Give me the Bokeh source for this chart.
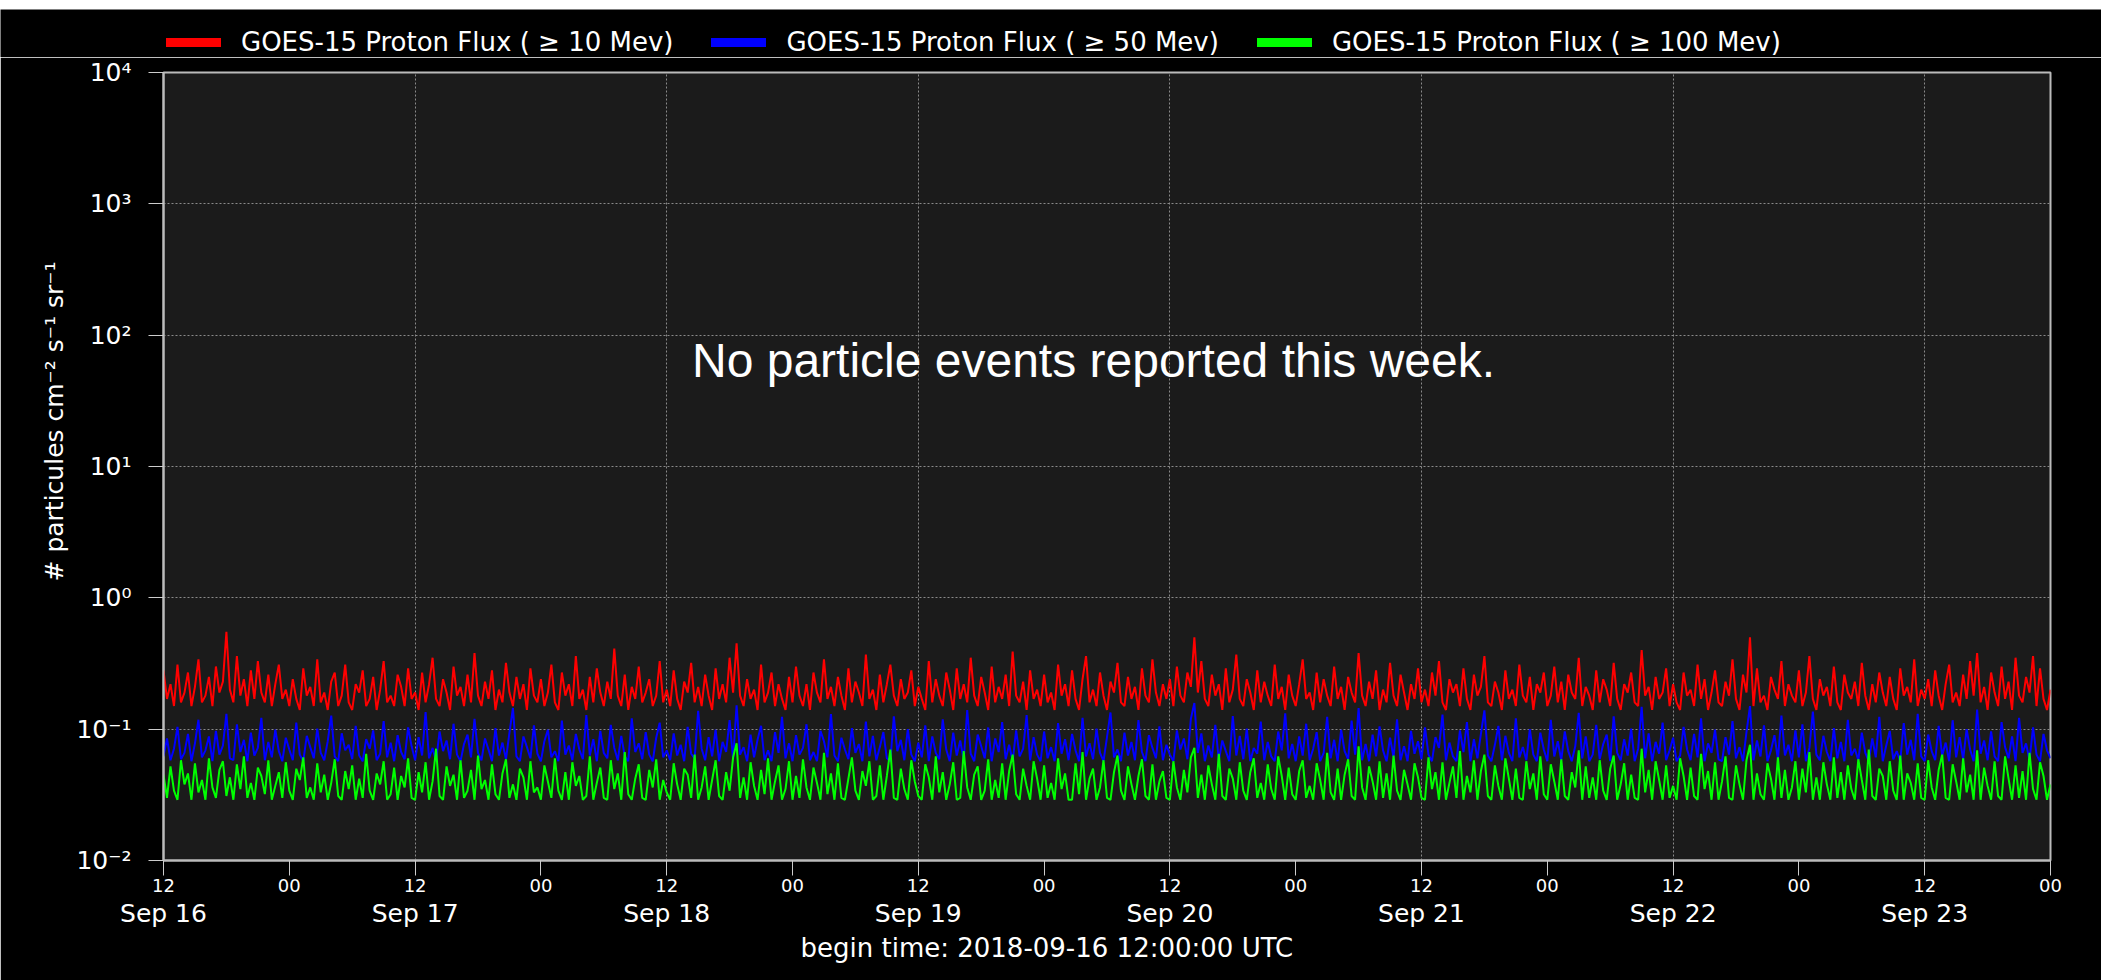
import math
import pandas as pd
from bokeh.plotting import figure
from bokeh.layouts import column
from bokeh.models import Range1d, FixedTicker, LinearAxis, Legend, LegendItem, Label, Title
from bokeh.embed import file_html
from bokeh.resources import INLINE

# ---------------- data (20-minute samples, starting 2018-09-16 12:00 UTC) ----------------
START = "2018-09-16 12:00:00"
END = "2018-09-24 00:00:00"
STEP = "20min"

flux_10mev = [
    0.28, 0.17, 0.22, 0.15, 0.31, 0.16, 0.19, 0.27, 0.15, 0.21, 0.34, 0.16, 0.18, 0.25, 0.15, 0.30, 0.19, 0.23, 0.55, 0.20, 0.16, 0.36, 0.18, 0.24, 0.15, 0.28, 0.17, 0.33, 0.19, 0.16, 0.26, 0.15, 0.22, 0.31, 0.17, 0.20,
    0.15, 0.24, 0.17, 0.14, 0.29, 0.18, 0.21, 0.15, 0.34, 0.16, 0.19, 0.14, 0.23, 0.27, 0.15, 0.18, 0.31, 0.16, 0.14, 0.22, 0.19, 0.28, 0.15, 0.17, 0.25, 0.14, 0.20, 0.33, 0.16, 0.18, 0.15, 0.26, 0.21, 0.15, 0.29, 0.17,
    0.19, 0.14, 0.27, 0.16, 0.22, 0.35, 0.17, 0.15, 0.24, 0.19, 0.14, 0.30, 0.18, 0.21, 0.15, 0.26, 0.16, 0.38, 0.18, 0.15, 0.23, 0.17, 0.28, 0.14, 0.20, 0.16, 0.32, 0.19, 0.15, 0.25, 0.17, 0.22, 0.14, 0.29, 0.18, 0.16,
    0.24, 0.15, 0.19, 0.31, 0.16, 0.14, 0.27, 0.18, 0.22, 0.15, 0.36, 0.17, 0.20, 0.14, 0.25, 0.16, 0.29, 0.19, 0.15, 0.23, 0.17, 0.41, 0.18, 0.15, 0.26, 0.14, 0.21, 0.17, 0.30, 0.16, 0.19, 0.24, 0.15, 0.18, 0.33, 0.16,
    0.20, 0.15, 0.28, 0.17, 0.14, 0.23, 0.19, 0.32, 0.16, 0.21, 0.15, 0.26, 0.18, 0.14, 0.29, 0.17, 0.22, 0.16, 0.35, 0.19, 0.45, 0.18, 0.15, 0.24, 0.17, 0.20, 0.14, 0.31, 0.16, 0.19, 0.27, 0.15, 0.22, 0.17, 0.14, 0.25,
    0.16, 0.30, 0.18, 0.15, 0.22, 0.14, 0.27, 0.19, 0.16, 0.34, 0.17, 0.21, 0.15, 0.25, 0.18, 0.14, 0.29, 0.16, 0.23, 0.19, 0.15, 0.37, 0.17, 0.20, 0.14, 0.26, 0.16, 0.22, 0.31, 0.18, 0.15, 0.24, 0.17, 0.19, 0.28, 0.15,
    0.21, 0.17, 0.14, 0.33, 0.16, 0.24, 0.18, 0.15, 0.27, 0.20, 0.14, 0.29, 0.17, 0.22, 0.16, 0.35, 0.18, 0.15, 0.25, 0.19, 0.14, 0.30, 0.16, 0.21, 0.17, 0.26, 0.15, 0.39, 0.18, 0.16, 0.23, 0.14, 0.28, 0.17, 0.20, 0.15,
    0.26, 0.16, 0.19, 0.14, 0.31, 0.18, 0.22, 0.15, 0.28, 0.17, 0.14, 0.24, 0.36, 0.16, 0.20, 0.15, 0.27, 0.18, 0.14, 0.23, 0.19, 0.32, 0.16, 0.15, 0.25, 0.17, 0.21, 0.14, 0.29, 0.18, 0.16, 0.34, 0.19, 0.15, 0.22, 0.17,
    0.24, 0.15, 0.30, 0.18, 0.16, 0.27, 0.21, 0.50, 0.19, 0.33, 0.17, 0.15, 0.26, 0.18, 0.22, 0.14, 0.29, 0.16, 0.20, 0.37, 0.17, 0.15, 0.24, 0.19, 0.14, 0.28, 0.16, 0.23, 0.18, 0.15, 0.31, 0.17, 0.21, 0.14, 0.26, 0.18,
    0.15, 0.22, 0.34, 0.17, 0.19, 0.14, 0.27, 0.16, 0.24, 0.18, 0.15, 0.30, 0.17, 0.21, 0.14, 0.25, 0.19, 0.16, 0.38, 0.18, 0.15, 0.23, 0.17, 0.28, 0.14, 0.20, 0.16, 0.32, 0.18, 0.15, 0.26, 0.19, 0.14, 0.22, 0.17, 0.29,
    0.16, 0.20, 0.15, 0.27, 0.18, 0.33, 0.16, 0.14, 0.24, 0.19, 0.22, 0.15, 0.29, 0.17, 0.14, 0.26, 0.18, 0.21, 0.36, 0.16, 0.15, 0.23, 0.19, 0.14, 0.28, 0.17, 0.20, 0.15, 0.31, 0.18, 0.16, 0.25, 0.14, 0.22, 0.19, 0.27,
    0.15, 0.18, 0.30, 0.16, 0.23, 0.14, 0.26, 0.19, 0.17, 0.35, 0.15, 0.21, 0.18, 0.14, 0.28, 0.16, 0.24, 0.20, 0.15, 0.32, 0.17, 0.14, 0.22, 0.19, 0.27, 0.16, 0.15, 0.40, 0.18, 0.21, 0.14, 0.25, 0.17, 0.19, 0.29, 0.15,
    0.22, 0.16, 0.14, 0.27, 0.18, 0.20, 0.15, 0.31, 0.17, 0.24, 0.14, 0.19, 0.28, 0.16, 0.15, 0.23, 0.18, 0.34, 0.17, 0.14, 0.26, 0.19, 0.50, 0.15, 0.29, 0.16, 0.18, 0.14, 0.25, 0.20, 0.17, 0.33, 0.15, 0.22, 0.18, 0.16,
    0.28, 0.15, 0.19, 0.36, 0.17, 0.14, 0.24, 0.18, 0.21, 0.15, 0.30, 0.16, 0.14, 0.26, 0.19, 0.17, 0.23, 0.15, 0.32, 0.18, 0.14, 0.22, 0.16, 0.27, 0.19, 0.15, 0.25, 0.17, 0.14, 0.29, 0.18, 0.21, 0.16, 0.34, 0.15, 0.20,
    0.17, 0.24, 0.15, 0.28, 0.18, 0.14, 0.22, 0.31, 0.16, 0.19, 0.15, 0.26, 0.17, 0.33, 0.18, 0.38, 0.16, 0.21, 0.14, 0.27, 0.19, 0.15, 0.30, 0.17, 0.23, 0.14, 0.35, 0.18, 0.16, 0.25, 0.19, 0.36, 0.15, 0.29, 0.17, 0.14,
    0.20,
]

flux_50mev = [
    0.062, 0.085, 0.058, 0.071, 0.104, 0.059, 0.066, 0.092, 0.057, 0.078, 0.118, 0.061, 0.069, 0.088, 0.057, 0.097, 0.064, 0.075, 0.131, 0.060, 0.058, 0.109, 0.067, 0.083, 0.057, 0.094, 0.063, 0.072, 0.122, 0.058, 0.080, 0.061, 0.099, 0.068, 0.057, 0.086,
    0.070, 0.058, 0.112, 0.064, 0.057, 0.089, 0.073, 0.060, 0.101, 0.066, 0.058, 0.081, 0.127, 0.062, 0.057, 0.093, 0.069, 0.076, 0.059, 0.106, 0.063, 0.057, 0.084, 0.071, 0.098, 0.058, 0.065, 0.115, 0.061, 0.079, 0.057, 0.090, 0.067, 0.059, 0.103, 0.074,
    0.058, 0.087, 0.063, 0.135, 0.060, 0.072, 0.057, 0.096, 0.068, 0.082, 0.059, 0.110, 0.064, 0.057, 0.077, 0.091, 0.061, 0.120, 0.066, 0.058, 0.085, 0.070, 0.057, 0.102, 0.063, 0.079, 0.059, 0.094, 0.145, 0.062, 0.057, 0.088, 0.073, 0.060, 0.107, 0.065,
    0.057, 0.081, 0.099, 0.061, 0.068, 0.057, 0.116, 0.064, 0.075, 0.058, 0.092, 0.070, 0.059, 0.128, 0.063, 0.084, 0.057, 0.097, 0.066, 0.060, 0.108, 0.072, 0.058, 0.089, 0.062, 0.057, 0.121, 0.067, 0.078, 0.059, 0.095, 0.064, 0.057, 0.086, 0.112, 0.061,
    0.069, 0.058, 0.093, 0.063, 0.076, 0.057, 0.104, 0.065, 0.060, 0.138, 0.071, 0.058, 0.087, 0.062, 0.099, 0.057, 0.080, 0.067, 0.117, 0.059, 0.152, 0.064, 0.073, 0.057, 0.091, 0.061, 0.083, 0.106, 0.058, 0.069, 0.057, 0.095, 0.066, 0.124, 0.060, 0.078,
    0.057, 0.090, 0.064, 0.072, 0.109, 0.058, 0.067, 0.057, 0.097, 0.081, 0.061, 0.130, 0.063, 0.057, 0.086, 0.070, 0.059, 0.102, 0.066, 0.077, 0.057, 0.114, 0.062, 0.089, 0.058, 0.073, 0.095, 0.060, 0.057, 0.125, 0.068, 0.083, 0.058, 0.100, 0.064, 0.057,
    0.079, 0.061, 0.107, 0.057, 0.088, 0.066, 0.059, 0.119, 0.070, 0.057, 0.094, 0.063, 0.082, 0.058, 0.140, 0.065, 0.057, 0.091, 0.074, 0.060, 0.103, 0.057, 0.085, 0.067, 0.113, 0.059, 0.076, 0.057, 0.098, 0.062, 0.071, 0.128, 0.058, 0.087, 0.064, 0.057,
    0.096, 0.060, 0.073, 0.057, 0.111, 0.065, 0.084, 0.058, 0.092, 0.069, 0.057, 0.122, 0.062, 0.078, 0.059, 0.101, 0.066, 0.057, 0.087, 0.134, 0.061, 0.070, 0.057, 0.094, 0.063, 0.080, 0.058, 0.117, 0.067, 0.057, 0.090, 0.072, 0.060, 0.105, 0.058, 0.076,
    0.064, 0.057, 0.098, 0.070, 0.085, 0.059, 0.120, 0.158, 0.066, 0.093, 0.057, 0.075, 0.061, 0.108, 0.058, 0.082, 0.068, 0.057, 0.126, 0.063, 0.089, 0.059, 0.101, 0.057, 0.072, 0.065, 0.114, 0.058, 0.080, 0.062, 0.057, 0.096, 0.069, 0.132, 0.060, 0.077,
    0.057, 0.088, 0.063, 0.110, 0.058, 0.071, 0.095, 0.057, 0.066, 0.124, 0.060, 0.083, 0.057, 0.099, 0.068, 0.059, 0.116, 0.064, 0.145, 0.058, 0.077, 0.057, 0.091, 0.062, 0.105, 0.069, 0.057, 0.086, 0.061, 0.119, 0.058, 0.074, 0.057, 0.097, 0.065, 0.081,
    0.059, 0.103, 0.064, 0.057, 0.087, 0.072, 0.129, 0.058, 0.079, 0.062, 0.057, 0.098, 0.067, 0.113, 0.057, 0.084, 0.060, 0.092, 0.139, 0.063, 0.057, 0.076, 0.106, 0.058, 0.089, 0.066, 0.057, 0.121, 0.061, 0.073, 0.058, 0.100, 0.064, 0.057, 0.094, 0.070,
    0.057, 0.118, 0.062, 0.081, 0.058, 0.096, 0.068, 0.057, 0.074, 0.133, 0.060, 0.088, 0.057, 0.064, 0.108, 0.059, 0.077, 0.091, 0.057, 0.125, 0.066, 0.058, 0.084, 0.063, 0.101, 0.057, 0.071, 0.148, 0.060, 0.093, 0.057, 0.080, 0.065, 0.112, 0.058, 0.069,
    0.086, 0.057, 0.063, 0.104, 0.070, 0.058, 0.092, 0.061, 0.121, 0.057, 0.078, 0.066, 0.099, 0.059, 0.057, 0.087, 0.064, 0.115, 0.060, 0.073, 0.057, 0.095, 0.150, 0.058, 0.082, 0.062, 0.107, 0.057, 0.069, 0.090, 0.059, 0.127, 0.063, 0.076, 0.057, 0.098,
    0.061, 0.109, 0.057, 0.072, 0.136, 0.064, 0.058, 0.089, 0.067, 0.057, 0.102, 0.060, 0.080, 0.057, 0.118, 0.063, 0.071, 0.058, 0.094, 0.066, 0.057, 0.085, 0.061, 0.124, 0.057, 0.075, 0.097, 0.059, 0.068, 0.057, 0.111, 0.064, 0.083, 0.058, 0.131, 0.062,
    0.057, 0.091, 0.068, 0.058, 0.106, 0.063, 0.079, 0.057, 0.117, 0.061, 0.087, 0.059, 0.100, 0.070, 0.057, 0.141, 0.065, 0.082, 0.058, 0.096, 0.062, 0.057, 0.113, 0.073, 0.060, 0.088, 0.057, 0.122, 0.066, 0.078, 0.058, 0.103, 0.064, 0.057, 0.092, 0.069,
    0.060,
]

flux_100mev = [
    0.045, 0.030, 0.052, 0.034, 0.029, 0.058, 0.038, 0.046, 0.029, 0.055, 0.033, 0.041, 0.029, 0.060, 0.036, 0.030, 0.049, 0.057, 0.031, 0.043, 0.029, 0.054, 0.035, 0.062, 0.030, 0.039, 0.029, 0.051, 0.044, 0.032, 0.058, 0.029, 0.037, 0.047, 0.030, 0.056,
    0.034, 0.029, 0.050, 0.041, 0.061, 0.030, 0.036, 0.029, 0.055, 0.033, 0.045, 0.029, 0.039, 0.059, 0.031, 0.029, 0.048, 0.035, 0.053, 0.029, 0.042, 0.030, 0.065, 0.034, 0.029, 0.046, 0.038, 0.057, 0.029, 0.032, 0.051, 0.029, 0.044, 0.036, 0.060, 0.030,
    0.029, 0.047, 0.033, 0.056, 0.029, 0.040, 0.071, 0.031, 0.029, 0.052, 0.037, 0.045, 0.029, 0.058, 0.030, 0.034, 0.049, 0.029, 0.063, 0.035, 0.041, 0.029, 0.054, 0.032, 0.029, 0.046, 0.059, 0.030, 0.038, 0.029, 0.050, 0.043, 0.029, 0.057, 0.033, 0.036,
    0.029, 0.053, 0.040, 0.030, 0.060, 0.034, 0.029, 0.047, 0.029, 0.056, 0.037, 0.044, 0.029, 0.031, 0.062, 0.029, 0.039, 0.051, 0.030, 0.029, 0.058, 0.035, 0.046, 0.029, 0.067, 0.032, 0.029, 0.042, 0.054, 0.030, 0.029, 0.049, 0.036, 0.059, 0.029, 0.041,
    0.033, 0.029, 0.055, 0.038, 0.029, 0.050, 0.045, 0.030, 0.064, 0.029, 0.036, 0.052, 0.029, 0.041, 0.058, 0.031, 0.029, 0.047, 0.034, 0.061, 0.078, 0.030, 0.043, 0.029, 0.056, 0.037, 0.029, 0.049, 0.032, 0.060, 0.029, 0.040, 0.053, 0.029, 0.035, 0.057,
    0.029, 0.044, 0.030, 0.059, 0.036, 0.029, 0.051, 0.039, 0.029, 0.066, 0.032, 0.046, 0.029, 0.055, 0.030, 0.029, 0.042, 0.061, 0.034, 0.029, 0.048, 0.037, 0.057, 0.029, 0.031, 0.053, 0.029, 0.044, 0.070, 0.030, 0.029, 0.050, 0.035, 0.029, 0.058, 0.040,
    0.031, 0.029, 0.054, 0.043, 0.029, 0.062, 0.033, 0.047, 0.029, 0.038, 0.056, 0.029, 0.030, 0.068, 0.036, 0.029, 0.045, 0.052, 0.029, 0.034, 0.059, 0.029, 0.041, 0.030, 0.055, 0.029, 0.048, 0.064, 0.032, 0.029, 0.050, 0.037, 0.029, 0.057, 0.042, 0.029,
    0.053, 0.030, 0.039, 0.029, 0.060, 0.035, 0.046, 0.029, 0.029, 0.055, 0.032, 0.067, 0.029, 0.042, 0.050, 0.029, 0.036, 0.058, 0.030, 0.029, 0.047, 0.063, 0.034, 0.029, 0.052, 0.038, 0.029, 0.044, 0.059, 0.031, 0.029, 0.054, 0.029, 0.040, 0.048, 0.030,
    0.029, 0.057, 0.036, 0.029, 0.049, 0.033, 0.061, 0.072, 0.030, 0.045, 0.029, 0.053, 0.038, 0.029, 0.065, 0.031, 0.029, 0.050, 0.042, 0.029, 0.056, 0.034, 0.029, 0.047, 0.060, 0.030, 0.039, 0.029, 0.054, 0.035, 0.029, 0.062, 0.044, 0.029, 0.051, 0.032,
    0.029, 0.048, 0.058, 0.030, 0.037, 0.029, 0.055, 0.041, 0.029, 0.066, 0.033, 0.029, 0.050, 0.029, 0.045, 0.059, 0.031, 0.029, 0.074, 0.036, 0.029, 0.052, 0.040, 0.029, 0.057, 0.030, 0.046, 0.029, 0.063, 0.034, 0.029, 0.049, 0.038, 0.029, 0.055, 0.043,
    0.030, 0.029, 0.061, 0.035, 0.047, 0.029, 0.056, 0.029, 0.039, 0.052, 0.030, 0.068, 0.029, 0.044, 0.033, 0.058, 0.029, 0.048, 0.064, 0.031, 0.029, 0.053, 0.037, 0.029, 0.060, 0.042, 0.029, 0.050, 0.030, 0.029, 0.057, 0.035, 0.046, 0.029, 0.062, 0.032,
    0.029, 0.054, 0.040, 0.029, 0.059, 0.031, 0.029, 0.047, 0.036, 0.069, 0.029, 0.052, 0.030, 0.043, 0.029, 0.058, 0.034, 0.029, 0.050, 0.063, 0.029, 0.038, 0.055, 0.029, 0.045, 0.030, 0.029, 0.071, 0.033, 0.049, 0.029, 0.057, 0.041, 0.029, 0.053, 0.030,
    0.037, 0.029, 0.060, 0.044, 0.029, 0.051, 0.031, 0.029, 0.065, 0.035, 0.048, 0.029, 0.056, 0.029, 0.040, 0.062, 0.030, 0.029, 0.053, 0.038, 0.029, 0.058, 0.076, 0.029, 0.046, 0.032, 0.029, 0.055, 0.042, 0.029, 0.061, 0.030, 0.049, 0.029, 0.036, 0.057,
    0.029, 0.050, 0.033, 0.067, 0.029, 0.043, 0.029, 0.056, 0.038, 0.029, 0.061, 0.030, 0.047, 0.029, 0.053, 0.035, 0.029, 0.059, 0.041, 0.029, 0.070, 0.031, 0.029, 0.050, 0.044, 0.029, 0.057, 0.034, 0.029, 0.063, 0.029, 0.046, 0.039, 0.029, 0.055, 0.030,
    0.029, 0.058, 0.036, 0.029, 0.049, 0.064, 0.030, 0.029, 0.054, 0.040, 0.029, 0.060, 0.033, 0.045, 0.029, 0.069, 0.029, 0.051, 0.037, 0.029, 0.057, 0.031, 0.029, 0.062, 0.042, 0.029, 0.053, 0.030, 0.048, 0.029, 0.066, 0.035, 0.029, 0.056, 0.044, 0.029,
    0.038,
]

series_labels = [
    "GOES-15 Proton Flux ( \u2265 10 Mev)",
    "GOES-15 Proton Flux ( \u2265 50 Mev)",
    "GOES-15 Proton Flux ( \u2265 100 Mev)",
]
series_colors = ["#ff0000", "#0000ff", "#00ff00"]

y_ticks = [1e-2, 1e-1, 1e0, 1e1, 1e2, 1e3, 1e4]
y_tick_labels = ["10\u207b\u00b2", "10\u207b\u00b9", "10\u2070", "10\u00b9", "10\u00b2", "10\u00b3", "10\u2074"]

y_label = "# particules cm\u207b\u00b2 s\u207b\u00b9 sr\u207b\u00b9"
x_label = "begin time: 2018-09-16 12:00:00 UTC"
note_text = "No particle events reported this week."
NOTE_TIME = "2018-09-20 04:43:00"
NOTE_VALUE = 64.0

# ---------------- helpers ----------------
EPOCH = pd.Timestamp("1970-01-01")


def to_ms(ts):
    return (pd.Timestamp(ts) - EPOCH) / pd.Timedelta(milliseconds=1)


def times_for(values):
    return pd.date_range(START, periods=len(values), freq=STEP)


half_days = pd.date_range(START, END, freq="12h")
half_ms = [int(to_ms(t)) for t in half_days]
half_labels = {int(to_ms(t)): ("12" if t.hour == 12 else "00") for t in half_days}
day_ticks = [t for t in half_days if t.hour == 12]
day_ms = [int(to_ms(t)) for t in day_ticks]
day_labels = {int(to_ms(t)): t.strftime("%b %d").replace(" 0", " ") for t in day_ticks}

FONT = "DejaVu Sans"
WIDTH = 2101
LEGEND_H = 57
MAIN_H = 980 - LEGEND_H

# ---------------- legend strip (sits above the main plot) ----------------
leg_fig = figure(
    width=WIDTH, height=LEGEND_H, x_range=Range1d(0, 1), y_range=Range1d(0, 1),
    x_axis_location=None, y_axis_location=None,
    output_backend="svg", toolbar_location=None,
    background_fill_color="black", border_fill_color="white", outline_line_color=None,
    min_border_left=0, min_border_right=0, min_border_top=9, min_border_bottom=0,
    frame_align=False,
)
leg_fig.grid.visible = False

legend_items = []
for lab, col in zip(series_labels, series_colors):
    r = leg_fig.line(x=[math.nan], y=[math.nan], line_color=col, line_width=9, line_cap="round")
    legend_items.append(LegendItem(label=lab, renderers=[r]))

legend = Legend(
    items=legend_items, orientation="horizontal", location=(166, 0.5),
    background_fill_alpha=0.0, border_line_color=None,
    label_text_color="white", label_text_font=FONT, label_text_font_size="26px",
    glyph_width=55, glyph_height=20, label_standoff=20, spacing=38,
    padding=0, margin=0,
)
leg_fig.add_layout(legend)

# ---------------- main plot ----------------
p = figure(
    width=WIDTH, height=MAIN_H,
    x_axis_type="datetime", y_axis_type="log",
    x_range=Range1d(to_ms(START), to_ms(END)),
    y_range=Range1d(1e-2, 1e4),
    output_backend="svg", toolbar_location=None,
    background_fill_color="#1b1b1b", border_fill_color="black",
    min_border_left=163, min_border_right=51, min_border_top=72 - LEGEND_H, min_border_bottom=120,
    frame_align=False,
)
p.outline_line_color = "#bbbbbb"
p.outline_line_width = 2

for vals, col in zip([flux_10mev, flux_50mev, flux_100mev], series_colors):
    p.line(times_for(vals), vals, line_color=col, line_width=2)

p.xgrid.ticker = FixedTicker(ticks=day_ms, minor_ticks=[])
for g in [p.xgrid[0], p.ygrid[0]]:
    g.grid_line_color = "#8a8a8a"
    g.grid_line_dash = "2 2"
    g.grid_line_width = 1


def style_axis(ax, size, standoff):
    ax.axis_line_color = "#bbbbbb"
    ax.axis_line_width = 2
    ax.major_tick_line_color = "#cccccc"
    ax.major_tick_line_width = 1
    ax.major_tick_out = 15
    ax.major_tick_in = 0
    ax.minor_tick_line_color = None
    ax.major_label_text_color = "white"
    ax.major_label_text_font = FONT
    ax.major_label_text_font_size = size
    ax.major_label_standoff = standoff


xa = p.xaxis[0]
xa.ticker = FixedTicker(ticks=half_ms, minor_ticks=[])
xa.major_label_overrides = half_labels
style_axis(xa, "18px", 3)

ya = p.yaxis[0]
ya.ticker = FixedTicker(ticks=y_ticks, minor_ticks=[])
ya.major_label_overrides = dict(zip(y_ticks, y_tick_labels))
style_axis(ya, "25px", 17)

xa2 = LinearAxis(ticker=FixedTicker(ticks=day_ms, minor_ticks=[]), major_label_overrides=day_labels)
style_axis(xa2, "25px", 4)
xa2.axis_line_color = None
xa2.major_tick_line_color = None
xa2.major_tick_out = 0
p.add_layout(xa2, "below")

p.add_layout(Title(text=x_label, align="left", offset=637, standoff=0,
                   text_color="white", text_font=FONT, text_font_size="26px",
                   text_font_style="normal"), "below")
p.add_layout(Title(text=y_label, align="left", offset=279, standoff=10,
                   text_color="white", text_font=FONT, text_font_size="25px",
                   text_font_style="normal"), "left")

p.add_layout(Label(x=to_ms(NOTE_TIME), y=NOTE_VALUE, text=note_text,
                   text_color="white", text_font="Liberation Sans", text_font_size="48px",
                   text_align="center", text_baseline="middle"))

page = column(leg_fig, p, spacing=0)
open("out.html", "w").write(file_html(page, INLINE))
